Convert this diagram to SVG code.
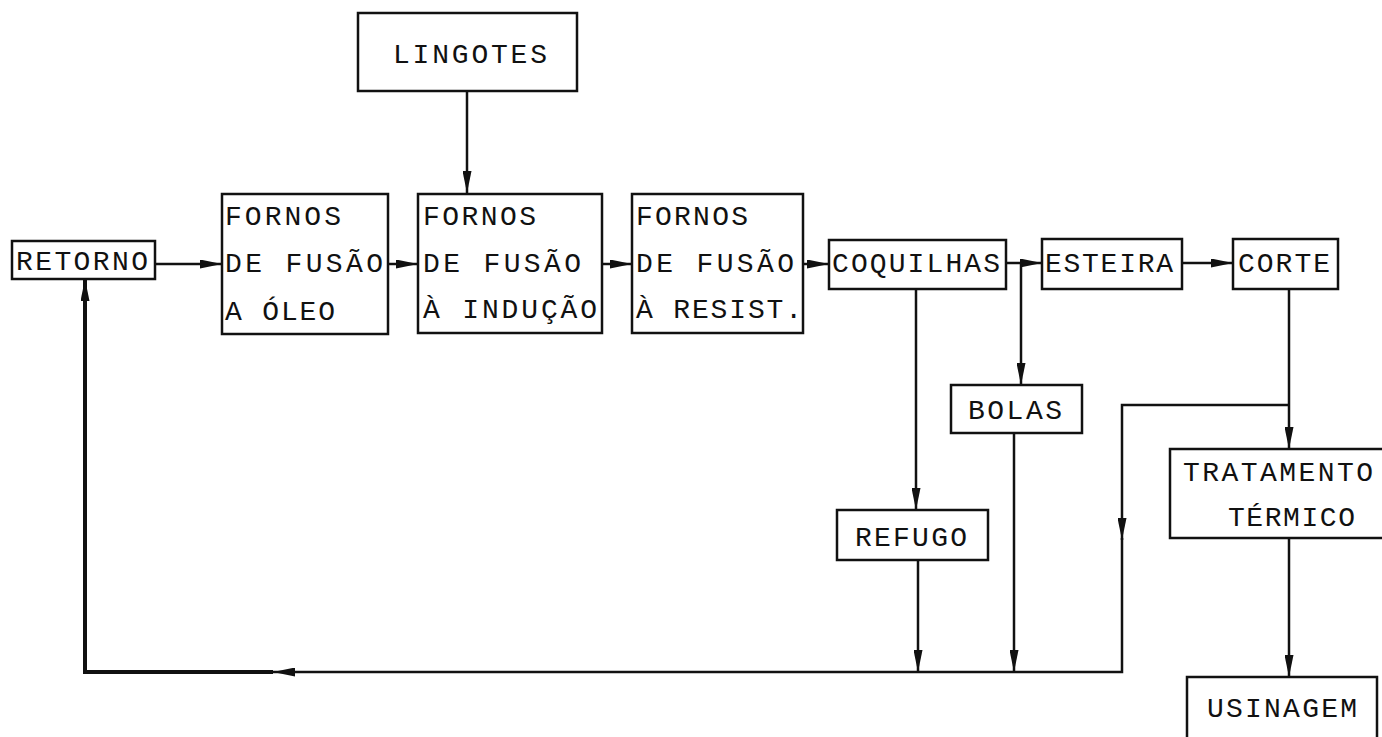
<svg xmlns="http://www.w3.org/2000/svg" width="1382" height="737" viewBox="0 0 1382 737">
<style>
.box{fill:#fff;stroke:#111;stroke-width:2.5}
.t{font-family:"Liberation Mono","DejaVu Sans Mono",monospace;font-size:28px;fill:#111}
.c{fill:none;stroke:#111;stroke-width:2.5}
.thick{stroke-width:4}
</style>
<defs>
<marker id="ah" viewBox="0 0 22 9" refX="22" refY="4.5" markerWidth="22" markerHeight="9" markerUnits="userSpaceOnUse" orient="auto">
<path d="M0,0 L22,4.5 L0,9 z" fill="#111"/>
</marker>
</defs>
<rect width="1382" height="737" fill="#fff"/>
<g id="connectors">
<path class="c" d="M467,91 V193" marker-end="url(#ah)"/>
<path class="c" d="M155,264 H222" marker-end="url(#ah)"/>
<path class="c" d="M388,264 H418" marker-end="url(#ah)"/>
<path class="c" d="M602,264 H632" marker-end="url(#ah)"/>
<path class="c" d="M803,264 H829" marker-end="url(#ah)"/>
<path class="c" d="M1006,263 H1042" marker-end="url(#ah)"/>
<path class="c" d="M1021,263 V385" marker-end="url(#ah)"/>
<path class="c" d="M1182,263 H1233" marker-end="url(#ah)"/>
<path class="c" d="M916,289 V510" marker-end="url(#ah)"/>
<path class="c" d="M1289,289 V449" marker-end="url(#ah)"/>
<path class="c" d="M1289,538 V677" marker-end="url(#ah)"/>
<path class="c" d="M918,560 V672" marker-end="url(#ah)"/>
<path class="c" d="M1014,433 V672" marker-end="url(#ah)"/>
<path class="c" d="M1289,405 H1122 V540" marker-end="url(#ah)"/>
<path class="c" d="M1122,538 V672 H273" marker-end="url(#ah)"/>
<path class="c thick" d="M273,672 H85 V279" marker-end="url(#ah)"/>
</g>
<g id="lingotes">
<rect class="box" x="358" y="13" width="219" height="78"/>
<text class="t" x="393" y="63" textLength="154" lengthAdjust="spacing">LINGOTES</text>
</g>
<g id="retorno">
<rect class="box" x="12" y="241" width="143" height="38"/>
<text class="t" x="16" y="270" textLength="132" lengthAdjust="spacing">RETORNO</text>
</g>
<g id="fornos-oleo">
<rect class="box" x="222" y="194" width="166" height="140"/>
<text class="t" x="225" y="225" textLength="116" lengthAdjust="spacing">FORNOS</text>
<text class="t" x="225" y="272" textLength="158" lengthAdjust="spacing">DE FUSÃO</text>
<text class="t" x="225" y="320" textLength="110" lengthAdjust="spacing">A ÓLEO</text>
</g>
<g id="fornos-inducao">
<rect class="box" x="418" y="194" width="184" height="139"/>
<text class="t" x="423" y="225" textLength="113" lengthAdjust="spacing">FORNOS</text>
<text class="t" x="423" y="272" textLength="158" lengthAdjust="spacing">DE FUSÃO</text>
<text class="t" x="423" y="318" textLength="174" lengthAdjust="spacing">À INDUÇÃO</text>
</g>
<g id="fornos-resist">
<rect class="box" x="632" y="194" width="171" height="139"/>
<text class="t" x="636" y="225" textLength="112" lengthAdjust="spacing">FORNOS</text>
<text class="t" x="636" y="272" textLength="158" lengthAdjust="spacing">DE FUSÃO</text>
<text class="t" x="636" y="318" textLength="166" lengthAdjust="spacing">À RESIST.</text>
</g>
<g id="coquilhas">
<rect class="box" x="829" y="240" width="177" height="49"/>
<text class="t" x="832" y="272" textLength="168" lengthAdjust="spacing">COQUILHAS</text>
</g>
<g id="esteira">
<rect class="box" x="1042" y="239" width="140" height="50"/>
<text class="t" x="1045" y="272" textLength="128" lengthAdjust="spacing">ESTEIRA</text>
</g>
<g id="corte">
<rect class="box" x="1233" y="239" width="105" height="50"/>
<text class="t" x="1238" y="272" textLength="92" lengthAdjust="spacing">CORTE</text>
</g>
<g id="bolas">
<rect class="box" x="951" y="385" width="131" height="48"/>
<text class="t" x="968" y="419" textLength="94" lengthAdjust="spacing">BOLAS</text>
</g>
<g id="refugo">
<rect class="box" x="837" y="510" width="151" height="50"/>
<text class="t" x="855" y="546" textLength="112" lengthAdjust="spacing">REFUGO</text>
</g>
<g id="tratamento">
<rect class="box" x="1170" y="449" width="222" height="89"/>
<text class="t" x="1183" y="481" textLength="190" lengthAdjust="spacing">TRATAMENTO</text>
<text class="t" x="1228" y="526" textLength="127" lengthAdjust="spacing">TÉRMICO</text>
</g>
<g id="usinagem">
<rect class="box" x="1187" y="677" width="190" height="70"/>
<text class="t" x="1207" y="717" textLength="150" lengthAdjust="spacing">USINAGEM</text>
</g>
</svg>
